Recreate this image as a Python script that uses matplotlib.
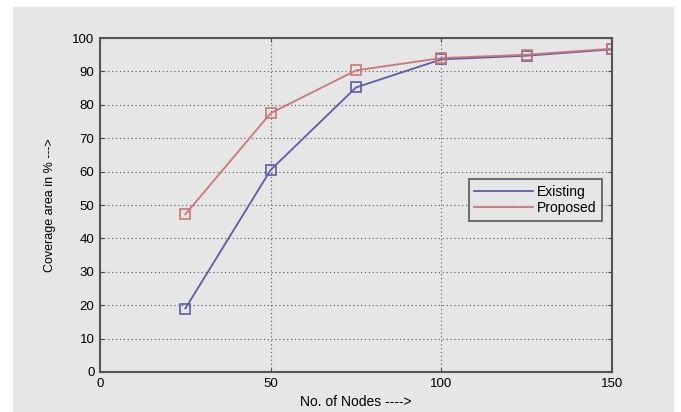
import matplotlib
matplotlib.use('Agg')
import matplotlib.pyplot as plt

# valori
nodi = [25, 50, 75, 100, 125, 150]
existing = [19, 60.5, 85.2, 93.6, 94.7, 96.6]
proposed = [47.2, 77.5, 90.3, 94.0, 95.0, 96.8]

x_ticks = [0, 50, 100, 150]
y_ticks = [0, 10, 20, 30, 40, 50, 60, 70, 80, 90, 100]

plt.rcParams['font.family'] = ['Liberation Sans', 'DejaVu Sans']

sfondo = '#e6e6e6'
blu = '#5c5ca8'
rosso = '#c87878'

fig = plt.figure(figsize=(6.81, 4.12), dpi=100, facecolor='white')
# pannello grigio dietro al grafico
fig.patches.append(plt.Rectangle((13 / 681, 0), 660 / 681, 1 - 7 / 412,
                                 transform=fig.transFigure, color=sfondo, zorder=-10))

ax = fig.add_axes([100 / 681, 1 - 372 / 412, 512 / 681, 334 / 412])
ax.set_facecolor(sfondo)

# linee (in legenda) e marcatori separati
ax.plot(nodi, existing, '-', color=blu, lw=1.3, label='Existing')
ax.plot(nodi, proposed, '-', color=rosso, lw=1.3, label='Proposed')
ax.plot(nodi, existing, 's', color=blu, ms=7, mfc='none', mew=1.2)
ax.plot(nodi, proposed, 's', color=rosso, ms=7, mfc='none', mew=1.2)

ax.set_xlim(0, 150)
ax.set_ylim(0, 100)
ax.set_xticks(x_ticks)
ax.set_yticks(y_ticks)
ax.grid(True, color='#555555', linestyle=(0, (1, 2.5)), lw=0.8)
ax.tick_params(direction='in', length=3, labelsize=9.5, color='#444444', pad=4)
ax.tick_params(top=True, right=True)
for s in ax.spines.values():
    s.set_color('#555555')
    s.set_linewidth(1.5)

ax.set_xlabel('No. of Nodes ---->', fontsize=10, labelpad=4)
ax.set_ylabel('Coverage area in % --->', fontsize=9, labelpad=12)

leg = ax.legend(loc='center right', bbox_to_anchor=(0.98, 0.515), fontsize=10,
                frameon=True, fancybox=False, handlelength=4.2, borderpad=0.4,
                handletextpad=0.3, labelspacing=0.15, borderaxespad=0)
leg.get_frame().set_edgecolor('#333333')
leg.get_frame().set_facecolor(sfondo)
leg.get_frame().set_linewidth(1.2)

fig.savefig('out.png', dpi=100, facecolor='white')
